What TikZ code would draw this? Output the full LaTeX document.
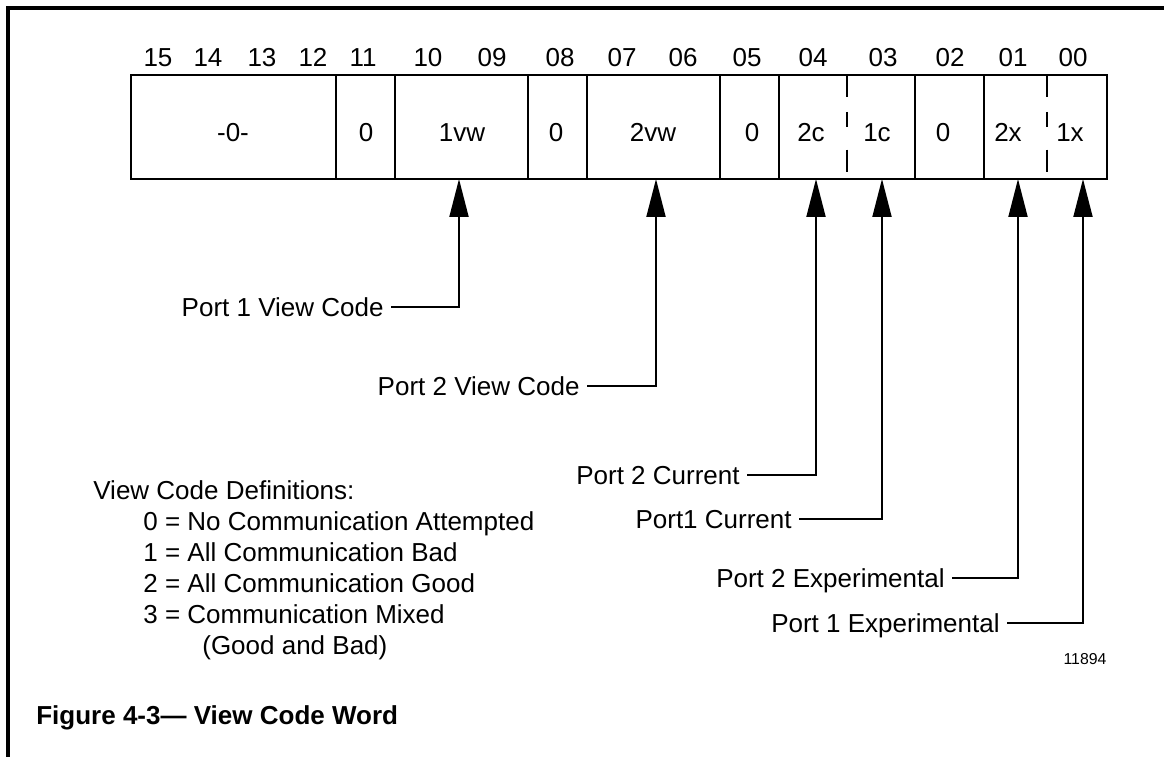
\documentclass[tikz,border=0pt]{standalone}
\usepackage{fontspec}
\setmainfont{Liberation Sans}
\usetikzlibrary{arrows.meta,positioning}

\begin{document}
\begin{tikzpicture}[x=0.02cm,y=-0.02cm,
        txt/.style={font=\fontsize{14.8}{17}\selectfont,inner sep=0pt,text height=10.6pt,text depth=0pt},
        lbl/.style={txt,anchor=east,inner xsep=4pt},
        defn/.style={txt,anchor=west},
        sep/.style={line width=1pt},
        half/.style={line width=0.6pt,dash pattern=on 12.5pt off 8.5pt on 8.5pt off 13pt},
        pointer/.style={line width=1.1pt,-{Triangle[length=0.76cm,width=0.38cm]}}]
        \useasboundingbox (0,0) rectangle (1164,757);
        \draw[line width=2.2pt] (8,757) -- (8,8) -- (1164,8);

        \node[txt] (b15) at (158,57) {15};
        \node[txt] (b14) at (208,57) {14};
        \node[txt] (b13) at (262,57) {13};
        \node[txt] (b12) at (313,57) {12};
        \node[txt] (b11) at (363,57) {11};
        \node[txt] (b10) at (428,57) {10};
        \node[txt] (b09) at (492,57) {09};
        \node[txt] (b08) at (560,57) {08};
        \node[txt] (b07) at (622,57) {07};
        \node[txt] (b06) at (683,57) {06};
        \node[txt] (b05) at (747,57) {05};
        \node[txt] (b04) at (813,57) {04};
        \node[txt] (b03) at (883,57) {03};
        \node[txt] (b02) at (950,57) {02};
        \node[txt] (b01) at (1013,57) {01};
        \node[txt] (b00) at (1073,57) {00};

        \draw[line width=0.6pt] (131,75) rectangle (1107,179);
        \draw[sep] (336,75) -- (336,179);
        \draw[sep] (395,75) -- (395,179);
        \draw[sep] (528,75) -- (528,179);
        \draw[sep] (587,75) -- (587,179);
        \draw[sep] (720,75) -- (720,179);
        \draw[sep] (779,75) -- (779,179);
        \draw[half] (847,75) -- (847,179);
        \draw[sep] (915,75) -- (915,179);
        \draw[sep] (984,75) -- (984,179);
        \draw[half] (1047,75) -- (1047,179);

        \node[txt] (zero) at (233,132) {-0-};
        \node[txt] (r11) at (366,132) {0};
        \node[txt] (vw1) at (462,132) {1vw};
        \node[txt] (r08) at (556,132) {0};
        \node[txt] (vw2) at (653,132) {2vw};
        \node[txt] (r05) at (752,132) {0};
        \node[txt] (c2) at (811,132) {2c};
        \node[txt] (c1) at (877,132) {1c};
        \node[txt] (r02) at (943,132) {0};
        \node[txt] (x2) at (1008,132) {2x};
        \node[txt] (x1) at (1070,132) {1x};

        \coordinate (t1vw) at (459,179);
        \coordinate (t2vw) at (656,179);
        \coordinate (t2c) at (816,179);
        \coordinate (t1c) at (882,179);
        \coordinate (t2x) at (1018,179);
        \coordinate (t1x) at (1083,179);

        \node[lbl] (p1vw) at (391,307) {Port 1 View Code};
        \node[lbl] (p2vw) at (587,386) {Port 2 View Code};
        \node[lbl] (p2c) at (747,475) {Port 2 Current};
        \node[lbl] (p1c) at (799,519) {Port1 Current};
        \node[lbl] (p2x) at (952,578) {Port 2 Experimental};
        \node[lbl] (p1x) at (1007,623) {Port 1 Experimental};

        \draw[pointer] (p1vw.east) -| (t1vw);
        \draw[pointer] (p2vw.east) -| (t2vw);
        \draw[pointer] (p2c.east) -| (t2c);
        \draw[pointer] (p1c.east) -| (t1c);
        \draw[pointer] (p2x.east) -| (t2x);
        \draw[pointer] (p1x.east) -| (t1x);

        \node[defn] (vcd) at (93,490) {View Code Definitions:};
        \node[defn] (d0) at (143,521) {0 = No Communication Attempted};
        \node[defn] (d1) at (143,552) {1 = All Communication Bad};
        \node[defn] (d2) at (143,583) {2 = All Communication Good};
        \node[defn] (d3) at (143,614) {3 = Communication Mixed};
        \node[defn] (d3b) at (202,645) {(Good and Bad)};

        \node[font=\fontsize{9}{11}\selectfont] (fig) at (1085,659) {11894};
        \node[txt,anchor=west,font=\fontsize{14.8}{17}\selectfont\bfseries] (cap) at (36,715) {Figure 4-3— View Code Word};
    \end{tikzpicture}
\end{document}
